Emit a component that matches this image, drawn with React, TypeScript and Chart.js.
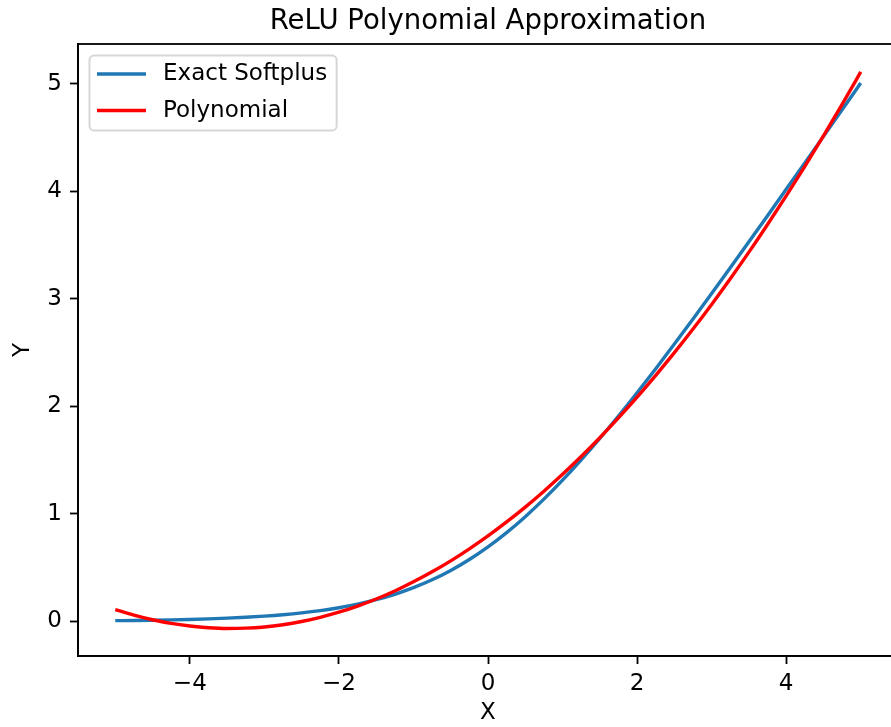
import React, { useEffect, useRef } from "react";
import { Chart, registerables } from "chart.js";

Chart.register(...registerables);

const TITLE = "ReLU Polynomial Approximation";
const X_LABEL = "X";
const Y_LABEL = "Y";
const SERIES_NAMES = ["Exact Softplus", "Polynomial"];
const SERIES_COLORS = ["#1f77b4", "#ff0000"];

const X_VALUES = [
  -5, -4.75, -4.5, -4.25, -4, -3.75, -3.5, -3.25, -3, -2.75, -2.5, -2.25, -2, -1.75, -1.5, -1.25, -1, -0.75, -0.5, -0.25,
  0, 0.25, 0.5, 0.75, 1, 1.25, 1.5, 1.75, 2, 2.25, 2.5, 2.75, 3, 3.25, 3.5, 3.75, 4, 4.25, 4.5, 4.75, 5,
];

const SOFTPLUS = [
  0.0067, 0.0086, 0.011, 0.0141, 0.0181, 0.0232, 0.0298, 0.038, 0.0486, 0.062, 0.0789, 0.1, 0.1269, 0.1602, 0.2014,
  0.2519, 0.3133, 0.3868, 0.4741, 0.5759, 0.6931, 0.8259, 0.9741, 1.1368, 1.3133, 1.5019, 1.7014, 1.9102, 2.1269,
  2.35, 2.5789, 2.812, 3.0486, 3.288, 3.5298, 3.7732, 4.0181, 4.2641, 4.511, 4.7586, 5.0067,
];

const POLYNOMIAL = [
  0.11, 0.058, 0.015, -0.019, -0.043, -0.059, -0.066, -0.063, -0.052, -0.031, -0.001, 0.038, 0.085, 0.142, 0.208,
  0.283, 0.368, 0.461, 0.563, 0.675, 0.795, 0.925, 1.063, 1.211, 1.368, 1.533, 1.708, 1.892, 2.085, 2.288, 2.499,
  2.719, 2.948, 3.187, 3.434, 3.691, 3.957, 4.231, 4.515, 4.808, 5.11,
];

const X_TICKS = [-4, -2, 0, 2, 4];
const Y_TICKS = [0, 1, 2, 3, 4, 5];
const X_LIMITS = [-5.5, 5.5];
const Y_LIMITS = [-0.322, 5.37];

const FAMILY = "'DejaVu Sans', sans-serif";

const fmt = (v: number) => (v < 0 ? "\u2212" + Math.abs(v) : String(v));

const frameLegendPlugin = {
  id: "frameLegend",
  afterDatasetsDraw(chart: any) {
    const { ctx, chartArea: a } = chart;
    ctx.save();
    ctx.strokeStyle = "#000";
    ctx.lineWidth = 1.8;
    ctx.strokeRect(a.left, a.top, a.right - a.left, a.bottom - a.top);

    ctx.font = "23px " + FAMILY;
    const ds = chart.data.datasets;
    const x0 = a.left + 11.5;
    const y0 = a.top + 11.5;
    const textX = x0 + 73.5;
    const maxW = Math.max(...ds.map((d: any) => ctx.measureText(d.label).width));
    const w = textX - x0 + maxW + 9.5;
    const h = 75;
    ctx.beginPath();
    ctx.roundRect(x0, y0, w, h, 4.6);
    ctx.fillStyle = "rgba(255,255,255,0.8)";
    ctx.fill();
    ctx.strokeStyle = "rgba(204,204,204,0.8)";
    ctx.lineWidth = 2;
    ctx.stroke();
    ds.forEach((d: any, i: number) => {
      const cy = y0 + 18.5 + i * 36.5;
      ctx.beginPath();
      ctx.moveTo(x0 + 7.5, cy);
      ctx.lineTo(x0 + 56.5, cy);
      ctx.strokeStyle = d.borderColor;
      ctx.lineWidth = 3.4;
      ctx.lineCap = "butt";
      ctx.stroke();
      ctx.fillStyle = "#000";
      ctx.textBaseline = "middle";
      ctx.textAlign = "left";
      ctx.fillText(d.label, textX, cy + 0.5);
    });
    ctx.restore();
  },
};

export default function App() {
  const ref = useRef<HTMLCanvasElement | null>(null);

  useEffect(() => {
    if (!ref.current) return;
    Chart.defaults.font.family = FAMILY;
    Chart.defaults.color = "#000";
    const series = [SOFTPLUS, POLYNOMIAL];
    const chart = new Chart(ref.current, {
      type: "line",
      data: {
        datasets: series.map((vals, si) => ({
          label: SERIES_NAMES[si],
          data: X_VALUES.map((x, i) => ({ x, y: vals[i] })),
          borderColor: SERIES_COLORS[si],
          backgroundColor: SERIES_COLORS[si],
          borderWidth: 3.4,
          pointRadius: 0,
          fill: false,
          cubicInterpolationMode: "monotone",
          order: si === 0 ? 1 : 0,
        })),
      },
      options: {
        responsive: false,
        animation: false,
        devicePixelRatio: 1,
        layout: { padding: { left: 0, right: 12, top: 0, bottom: 0 } },
        plugins: {
          legend: { display: false },
          tooltip: { enabled: false },
          title: {
            display: true,
            text: TITLE,
            fullSize: false,
            color: "#000",
            font: { size: 27.5, weight: "normal", family: FAMILY },
            padding: { top: 5.8, bottom: 5.2 },
          },
        },
        scales: {
          x: {
            type: "linear",
            min: X_LIMITS[0],
            max: X_LIMITS[1],
            afterBuildTicks: (s: any) => {
              s.ticks = X_TICKS.map((v) => ({ value: v }));
            },
            afterFit: (s: any) => {
              s.height = 71;
            },
            ticks: {
              callback: (v: any) => fmt(Number(v)),
              font: { size: 23, family: FAMILY },
              color: "#000",
              padding: 6,
              maxRotation: 0,
              autoSkip: false,
            },
            grid: {
              drawOnChartArea: false,
              drawTicks: true,
              tickLength: 8,
              tickWidth: 1.8,
              tickColor: "#000",
              color: "#000",
            },
            border: { display: true, color: "#000", width: 1.8 },
            title: {
              display: true,
              text: X_LABEL,
              color: "#000",
              font: { size: 23, family: FAMILY },
              padding: { top: 0, bottom: 0.5 },
            },
          },
          y: {
            type: "linear",
            min: Y_LIMITS[0],
            max: Y_LIMITS[1],
            afterBuildTicks: (s: any) => {
              s.ticks = Y_TICKS.map((v) => ({ value: v }));
            },
            afterFit: (s: any) => {
              s.width = 78;
            },
            ticks: {
              callback: (v: any) => fmt(Number(v)),
              font: { size: 23, family: FAMILY },
              color: "#000",
              padding: 8,
              autoSkip: false,
            },
            grid: {
              drawOnChartArea: false,
              drawTicks: true,
              tickLength: 8,
              tickWidth: 1.8,
              tickColor: "#000",
              color: "#000",
            },
            border: { display: true, color: "#000", width: 1.8 },
            title: {
              display: true,
              text: Y_LABEL,
              color: "#000",
              font: { size: 23, family: FAMILY },
              padding: { top: 9, bottom: 0 },
            },
          },
        },
      },
      plugins: [frameLegendPlugin],
    } as any);
    return () => chart.destroy();
  }, []);

  return (
    <div
      style={{
        position: "fixed",
        left: 0,
        top: 0,
        width: 891,
        height: 727,
        overflow: "hidden",
        background: "#fff",
      }}
    >
      <canvas ref={ref} width={910} height={727} style={{ display: "block" }} />
    </div>
  );
}
